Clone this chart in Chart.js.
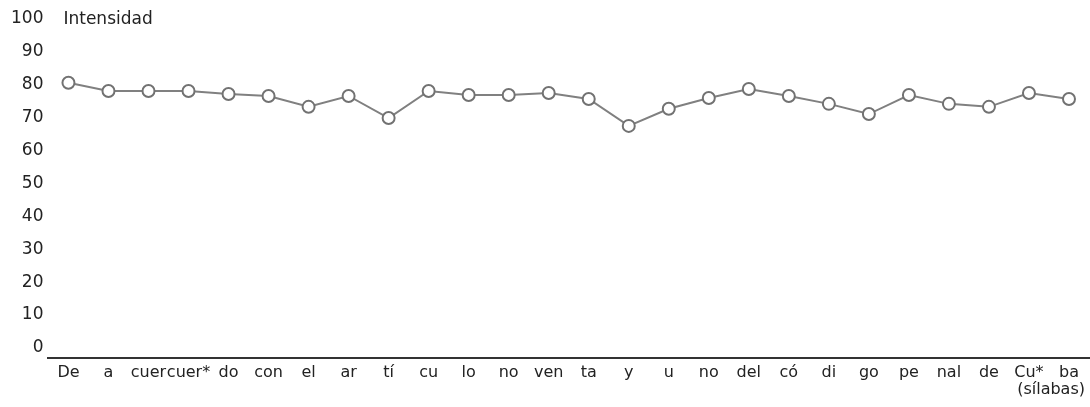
<!DOCTYPE html>
<html>
<head>
<meta charset="utf-8">
<script src="https://cdn.jsdelivr.net/npm/chart.js@4"></script>
<style>
  html, body { margin: 0; padding: 0; background: #fff; }
  #wrap { width: 1090px; height: 407px; }
</style>
</head>
<body>
<div id="wrap"><canvas id="chart" width="1090" height="407"></canvas></div>
<script>
// --- Datos ---
const silabas = ["De", "a", "cuer", "cuer*", "do", "con", "el", "ar", "tí", "cu", "lo", "no", "ven",
                 "ta", "y", "u", "no", "del", "có", "di", "go", "pe", "nal", "de", "Cu*", "ba"];
const intensidad = [80.6, 78.1, 78.1, 78.1, 77.2, 76.6, 73.3, 76.6, 69.9, 78.1, 76.9, 76.9, 77.5,
                    75.7, 67.5, 72.7, 76.0, 78.7, 76.6, 74.2, 71.1, 76.9, 74.2, 73.3, 77.5, 75.7];
const yTicks = [0, 10, 20, 30, 40, 50, 60, 70, 80, 90, 100];

const FONT = "'DejaVu Sans', sans-serif";

// --- Textos extra: "Intensidad" y "(sílabas)" ---
const axisNotes = {
  id: "axisNotes",
  afterDraw(chart) {
    const { ctx, chartArea, scales } = chart;
    ctx.save();
    ctx.fillStyle = "#222";
    ctx.textBaseline = "middle";
    ctx.font = "17px " + FONT;
    ctx.textAlign = "left";
    ctx.fillText("Intensidad", chartArea.left + 15, scales.y.getPixelForValue(100) + 1);
    ctx.font = "16px " + FONT;
    ctx.textAlign = "right";
    ctx.fillText("(sílabas)", chartArea.right - 4, chartArea.bottom + 32);
    ctx.restore();
  }
};

new Chart(document.getElementById("chart"), {
  type: "line",
  data: {
    labels: silabas,
    datasets: [{
      data: intensidad,
      borderColor: "#808080",
      borderWidth: 2,
      pointRadius: 6,
      pointBorderWidth: 2,
      pointBackgroundColor: "#fff",
      pointBorderColor: "#727272",
      tension: 0
    }]
  },
  options: {
    responsive: false,
    animation: false,
    layout: { autoPadding: false, padding: { top: 19, right: 1, left: 6, bottom: 20 } },
    plugins: { legend: { display: false }, tooltip: { enabled: false } },
    scales: {
      x: {
        offset: true,
        afterFit: (s) => { s.paddingRight = 0; s.paddingLeft = 0; },
        grid: { display: false, drawTicks: false },
        border: { display: true, color: "#333", width: 2 },
        ticks: { color: "#222", font: { family: FONT, size: 16 }, padding: 5, maxRotation: 0, autoSkip: false }
      },
      y: {
        min: -3,
        max: 100,
        afterBuildTicks: (axis) => { axis.ticks = yTicks.map(v => ({ value: v })); },
        grid: { display: false, drawTicks: false },
        border: { display: false },
        ticks: { color: "#222", font: { family: FONT, size: 17 }, padding: 5 }
      }
    }
  },
  plugins: [axisNotes]
});
</script>
</body>
</html>
